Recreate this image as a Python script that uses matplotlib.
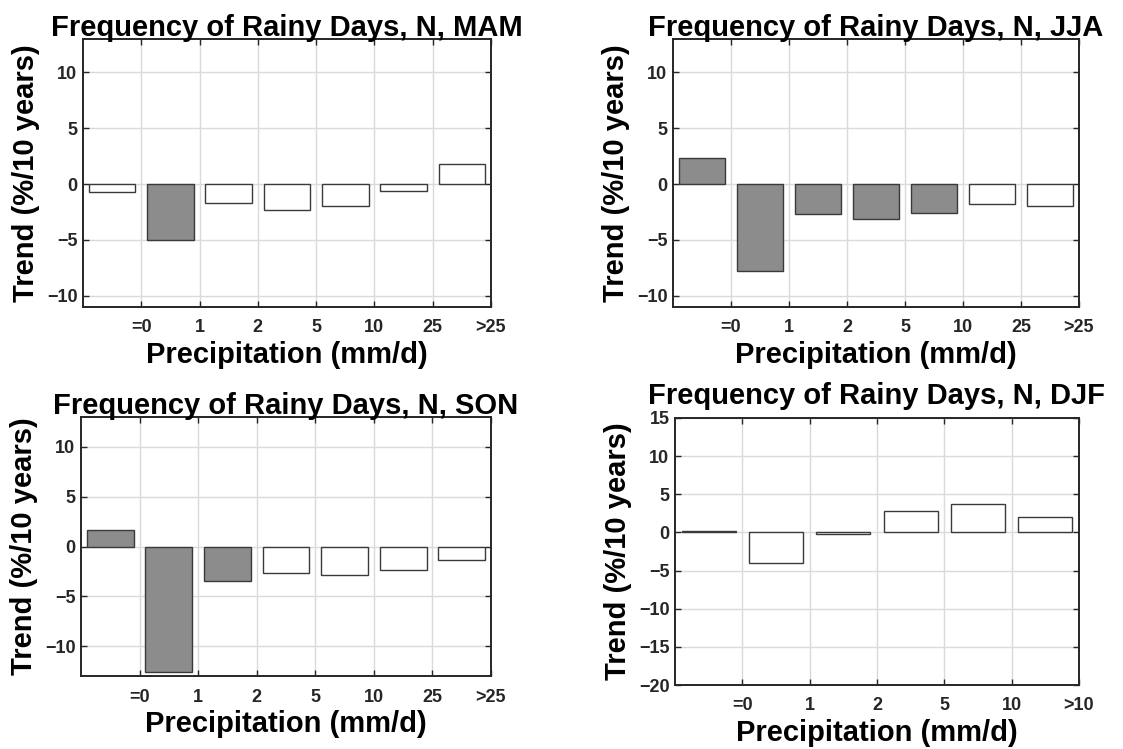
import numpy as np
import matplotlib
matplotlib.use("Agg")
import matplotlib.pyplot as plt

plt.rcParams['font.family'] = ['Liberation Sans', 'DejaVu Sans']
plt.rcParams['font.weight'] = 'bold'

# Precipitation classes (mm/d)
classes = ['=0', '1', '2', '5', '10', '25', '>25']
classes_djf = ['=0', '1', '2', '5', '10', '>10']

# Trend of rainy day frequency per class (%/10 years)
mam = [-0.7, -5.0, -1.7, -2.35, -1.95, -0.63, 1.8]
jja = [2.3, -7.75, -2.7, -3.15, -2.6, -1.8, -1.95]
son = [1.7, -12.6, -3.5, -2.7, -2.9, -2.4, -1.4]
djf = [0.15, -4.0, -0.2, 2.8, 3.7, 2.0]

# 1 = significant trend (shaded bar)
mam_sig = [0, 1, 0, 0, 0, 0, 0]
jja_sig = [1, 1, 1, 1, 1, 0, 0]
son_sig = [1, 1, 1, 0, 0, 0, 0]
djf_sig = [0, 0, 0, 0, 0, 0]

W, H = 1123, 749
fig = plt.figure(figsize=(W / 100, H / 100), dpi=100)


def px_axes(left, top, right, bottom):
    return fig.add_axes([left / W, 1 - bottom / H, (right - left) / W, (bottom - top) / H])


def draw_panel(ax, season, vals, sig, labels, ylim, yticks, title_pad=2):
    n = len(vals)
    x = np.arange(n) + 0.5
    colors = ['#8c8c8c' if s else 'white' for s in sig]
    ax.bar(x, vals, width=0.8, color=colors, edgecolor='#3a3a3a', linewidth=1.0, zorder=3)
    ax.set_xlim(0, n)
    ax.set_ylim(*ylim)
    ax.set_xticks(np.arange(1, n + 1))
    ax.set_xticklabels(labels)
    ax.set_yticks(yticks)
    ax.grid(True, color='#dadada', linewidth=1.0, zorder=0)
    ax.set_axisbelow(True)
    ax.tick_params(direction='in', length=4, width=1, top=True, right=True,
                   labelsize=13, labelcolor='#262626', color='#262626')
    ax.tick_params(axis='x', pad=9)
    ax.tick_params(axis='y', pad=4)
    for lab in ax.get_xticklabels() + ax.get_yticklabels():
        lab.set_fontweight('bold')
    for sp in ax.spines.values():
        sp.set_linewidth(1.4)
        sp.set_color('#262626')
    ax.set_title('Frequency of Rainy Days, N, ' + season, fontsize=21, fontweight='bold', pad=title_pad)
    ax.set_xlabel('Precipitation (mm/d)', fontsize=21, fontweight='bold', labelpad=3)
    ax.set_ylabel('Trend (%/10 years)', fontsize=21, fontweight='bold', labelpad=5)


ax1 = px_axes(83, 39, 491, 307)
draw_panel(ax1, 'MAM', mam, mam_sig, classes, (-11, 13), [-10, -5, 0, 5, 10])

ax2 = px_axes(673, 39, 1079, 307)
draw_panel(ax2, 'JJA', jja, jja_sig, classes, (-11, 13), [-10, -5, 0, 5, 10])

ax3 = px_axes(81, 417, 491, 676)
draw_panel(ax3, 'SON', son, son_sig, classes, (-13, 13), [-10, -5, 0, 5, 10])

# DJF has a taller y range, so its top tick label sits right under the title
ax4 = px_axes(675, 418, 1079, 685)
draw_panel(ax4, 'DJF', djf, djf_sig, classes_djf, (-20, 15), [-20, -15, -10, -5, 0, 5, 10, 15],
           title_pad=10)

fig.savefig('out.png', dpi=100)
